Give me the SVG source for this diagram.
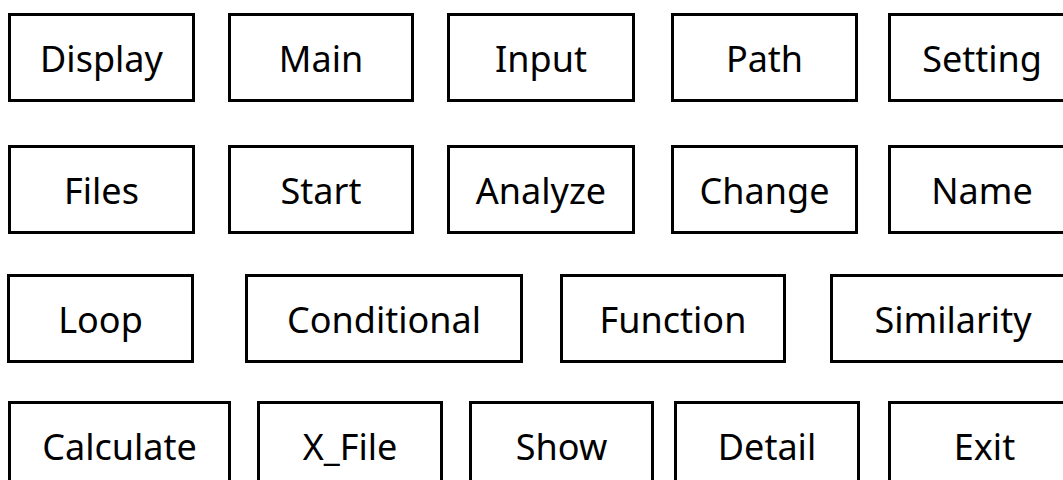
<svg xmlns="http://www.w3.org/2000/svg" width="1063" height="480" viewBox="0 0 1063 480">
<style>
.box{fill:#fff;stroke:#000;stroke-width:3}
.t{font-family:"Noto Sans","Open Sans","Liberation Sans",sans-serif;font-size:36px;fill:#000;text-anchor:middle}
</style>
<rect x="0" y="0" width="1063" height="480" fill="#fff"/>
<g id="connectors"></g>
<g id="n-display"><rect class="box" x="9.5" y="14.5" width="184" height="86"/><text class="t" x="101.5" y="72">Display</text></g>
<g id="n-main"><rect class="box" x="229.5" y="14.5" width="183" height="86"/><text class="t" x="321" y="72">Main</text></g>
<g id="n-input"><rect class="box" x="448.5" y="14.5" width="185" height="86"/><text class="t" x="541" y="72">Input</text></g>
<g id="n-path"><rect class="box" x="672.5" y="14.5" width="184" height="86"/><text class="t" x="764.5" y="72">Path</text></g>
<g id="n-setting"><rect class="box" x="889.5" y="14.5" width="186" height="86"/><text class="t" x="982" y="72">Setting</text></g>
<g id="n-files"><rect class="box" x="9.5" y="146.5" width="184" height="86"/><text class="t" x="101.5" y="204">Files</text></g>
<g id="n-start"><rect class="box" x="229.5" y="146.5" width="183" height="86"/><text class="t" x="321" y="204">Start</text></g>
<g id="n-analyze"><rect class="box" x="448.5" y="146.5" width="185" height="86"/><text class="t" x="541" y="204">Analyze</text></g>
<g id="n-change"><rect class="box" x="672.5" y="146.5" width="184" height="86"/><text class="t" x="764.5" y="204">Change</text></g>
<g id="n-name"><rect class="box" x="889.5" y="146.5" width="186" height="86"/><text class="t" x="982" y="204">Name</text></g>
<g id="n-loop"><rect class="box" x="8.5" y="275.5" width="184" height="86"/><text class="t" x="100.5" y="333">Loop</text></g>
<g id="n-conditional"><rect class="box" x="246.5" y="275.5" width="275" height="86"/><text class="t" x="384" y="333">Conditional</text></g>
<g id="n-function"><rect class="box" x="561.5" y="275.5" width="223" height="86"/><text class="t" x="673" y="333">Function</text></g>
<g id="n-similarity"><rect class="box" x="831.5" y="275.5" width="243" height="86"/><text class="t" x="953" y="333">Similarity</text></g>
<g id="n-calculate"><rect class="box" x="9.5" y="402.5" width="220" height="90"/><text class="t" x="119.5" y="460">Calculate</text></g>
<g id="n-xfile"><rect class="box" x="258.5" y="402.5" width="183" height="90"/><text class="t" x="350" y="460">X_File</text></g>
<g id="n-show"><rect class="box" x="470.5" y="402.5" width="182" height="90"/><text class="t" x="561.5" y="460">Show</text></g>
<g id="n-detail"><rect class="box" x="675.5" y="402.5" width="183" height="90"/><text class="t" x="767" y="460">Detail</text></g>
<g id="n-exit"><rect class="box" x="889.5" y="402.5" width="190" height="90"/><text class="t" x="984.5" y="460">Exit</text></g>
</svg>
